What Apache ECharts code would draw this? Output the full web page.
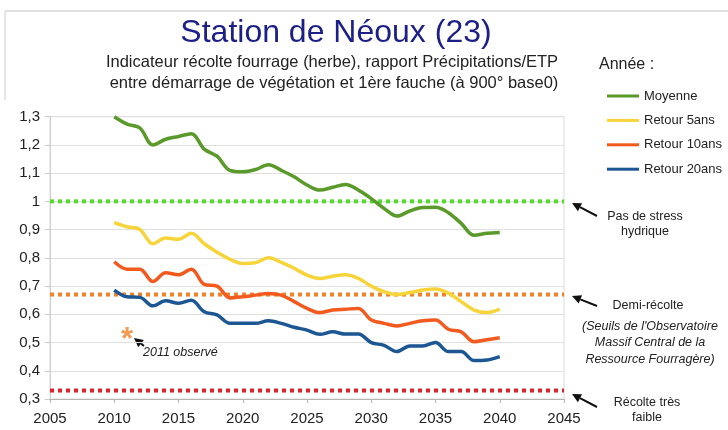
<!DOCTYPE html>
<html>
<head>
<meta charset="utf-8">
<script src="https://cdn.jsdelivr.net/npm/echarts@6/dist/echarts.min.js"></script>
<style>
  html, body { margin: 0; padding: 0; background: #fff; }
  #chart { width: 728px; height: 430px; }
</style>
</head>
<body>
<div id="chart"></div>
<script>
// années de projection
var years = [2010, 2011, 2012, 2013, 2014, 2015, 2016, 2017, 2018, 2019, 2020,
             2021, 2022, 2023, 2024, 2025, 2026, 2027, 2028, 2029, 2030,
             2031, 2032, 2033, 2034, 2035, 2036, 2037, 2038, 2039, 2040];

var moyenne = [1.30, 1.274, 1.26, 1.20, 1.22, 1.23, 1.24, 1.185, 1.16, 1.11, 1.105,
               1.113, 1.13, 1.11, 1.087, 1.058, 1.04, 1.05, 1.06, 1.04, 1.01,
               0.975, 0.948, 0.966, 0.978, 0.979, 0.96, 0.922, 0.88, 0.887, 0.89];
var retour5 = [0.925, 0.91, 0.90, 0.85, 0.87, 0.866, 0.887, 0.85, 0.82, 0.795, 0.78,
               0.783, 0.80, 0.784, 0.763, 0.739, 0.727, 0.735, 0.74, 0.727, 0.70,
               0.68, 0.67, 0.677, 0.686, 0.69, 0.675, 0.645, 0.615, 0.606, 0.618];
var retour10 = [0.786, 0.76, 0.76, 0.716, 0.747, 0.74, 0.76, 0.706, 0.70, 0.658, 0.662,
                0.668, 0.674, 0.668, 0.645, 0.621, 0.606, 0.615, 0.618, 0.621, 0.58,
                0.568, 0.559, 0.568, 0.577, 0.58, 0.547, 0.538, 0.503, 0.51, 0.517];
var retour20 = [0.686, 0.662, 0.66, 0.63, 0.648, 0.639, 0.65, 0.609, 0.598, 0.568, 0.568,
                0.568, 0.577, 0.568, 0.554, 0.544, 0.529, 0.538, 0.53, 0.53, 0.50,
                0.49, 0.468, 0.488, 0.488, 0.50, 0.468, 0.468, 0.436, 0.438, 0.45];

var seriesNames = ['Moyenne', 'Retour 5ans', 'Retour 10ans', 'Retour 20ans'];
var seriesColors = ['#5a9a2a', '#f6d43a', '#f25a1e', '#1d5793'];

// seuils (Observatoire Massif Central)
var seuils = [1.0, 0.67, 0.33];
var seuilColors = ['#4fdc2a', '#ef8128', '#e2222c'];

// valeur observée 2011
var observe = [[2011, 0.527]];

var xRange = [2005, 2045];

var FONT = "'Liberation Sans', Arial, sans-serif";

function pairs(vals) {
    var out = [];
    for (var i = 0; i < years.length; i++) out.push([years[i], vals[i]]);
    return out;
}

// flèche noire (queue -> pointe)
function arrow(x1, y1, x2, y2) {
    var a = Math.atan2(y2 - y1, x2 - x1), L = 9, W = 4.5;
    var bx = x2 - L * Math.cos(a), by = y2 - L * Math.sin(a);
    var px = -Math.sin(a) * W, py = Math.cos(a) * W;
    return [
        { type: 'line', shape: { x1: x1, y1: y1, x2: bx, y2: by }, style: { stroke: '#111', lineWidth: 2 } },
        { type: 'polygon', shape: { points: [[x2, y2], [bx + px, by + py], [bx - px, by - py]] }, style: { fill: '#111' } }
    ];
}

function txt(x, y, text, size, opts) {
    opts = opts || {};
    return {
        type: 'text', x: x, y: y,
        style: {
            text: text, fontSize: size, fontFamily: FONT,
            fill: opts.fill || '#222', align: opts.align || 'center', verticalAlign: 'middle',
            fontStyle: opts.italic ? 'italic' : 'normal', lineHeight: opts.lineHeight || size
        }
    };
}

var series = [];
seuils.forEach(function (v, i) {
    series.push({
        type: 'line', name: 'seuil' + i, silent: true, symbol: 'none', z: 1,
        data: [[xRange[0], v], [xRange[1], v]],
        lineStyle: { color: seuilColors[i], width: 4, type: [4, 4] }
    });
});
[moyenne, retour5, retour10, retour20].forEach(function (vals, i) {
    series.push({
        type: 'line', name: seriesNames[i], smooth: 0.35, symbol: 'none', showSymbol: false, z: 3,
        data: pairs(vals),
        lineStyle: { color: seriesColors[i], width: 3.5 },
        itemStyle: { color: seriesColors[i] }
    });
});
series.push({
    type: 'scatter', name: 'observé', data: observe, symbolSize: 2, z: 4,
    itemStyle: { color: 'rgba(255,255,255,0)' },
    label: {
        show: true, position: 'inside', formatter: '*', offset: [0, 6],
        fontSize: 31, fontWeight: 'bold', color: '#f0822a', fontFamily: FONT
    }
});

var graphics = [
    { type: 'line', shape: { x1: 5, y1: 11, x2: 728, y2: 11 }, style: { stroke: '#d6d6d6', lineWidth: 1.5 } },
    { type: 'line', shape: { x1: 5, y1: 11, x2: 5, y2: 100 }, style: { stroke: '#dedede', lineWidth: 1.5 } },
    txt(336, 33, 'Station de Néoux (23)', 32, { fill: '#1b1f86' }),
    txt(332, 62, 'Indicateur récolte fourrage (herbe), rapport Précipitations/ETP', 16.5),
    txt(334, 83, 'entre démarrage de végétation et 1ère fauche (à 900° base0)', 16.5),
    txt(599, 65, 'Année :', 16, { align: 'left' }),
    txt(645, 224, 'Pas de stress\nhydrique', 12.5, { lineHeight: 15 }),
    txt(648, 306, 'Demi-récolte', 12.5),
    txt(650, 343, "(Seuils de l'Observatoire\nMassif Central de la\nRessource Fourragère)", 12.5, { italic: true, lineHeight: 16.5 }),
    txt(647, 410, 'Récolte très\nfaible', 12.5, { lineHeight: 14.5 }),
    txt(143, 353, '2011 observé', 12.5, { align: 'left', italic: true })
];
graphics = graphics
    .concat(arrow(597, 216, 572, 203))
    .concat(arrow(597, 306, 572, 296))
    .concat(arrow(597, 407, 572, 394))
    .concat(arrow(144, 346, 134, 338));

var myChart = echarts.init(document.getElementById('chart'));
myChart.setOption({
    animation: false,
    backgroundColor: '#fff',
    textStyle: { fontFamily: FONT },
    grid: { left: 50, right: 164, top: 116.7, bottom: 31, show: true, borderColor: '#dadada', borderWidth: 1 },
    legend: {
        data: seriesNames, orient: 'vertical', left: 602, top: 84.5,
        icon: 'rect', itemWidth: 32, itemHeight: 3, itemGap: 11.4,
        textStyle: { fontSize: 13, color: '#222', fontFamily: FONT },
        selectedMode: false
    },
    xAxis: {
        type: 'value', min: xRange[0], max: xRange[1], interval: 5,
        axisLine: { lineStyle: { color: '#b4b4b4' } },
        axisTick: { show: true, length: 4, lineStyle: { color: '#b4b4b4' } },
        axisLabel: {
            fontSize: 15, color: '#222', margin: 12, fontFamily: FONT,
            formatter: function (v) { return String(v); }
        },
        splitLine: { show: false }
    },
    yAxis: {
        type: 'value', min: 0.3, max: 1.3, interval: 0.1,
        axisLine: { show: true, lineStyle: { color: '#d0d0d0' } },
        axisTick: { show: true, length: 5, lineStyle: { color: '#c8c8c8' } },
        axisLabel: {
            fontSize: 15, color: '#222', margin: 10, fontFamily: FONT,
            formatter: function (v) { return String(Math.round(v * 10) / 10).replace('.', ','); }
        },
        splitLine: { lineStyle: { color: '#e0e0e0' } }
    },
    series: series,
    graphic: graphics
});
</script>
</body>
</html>
